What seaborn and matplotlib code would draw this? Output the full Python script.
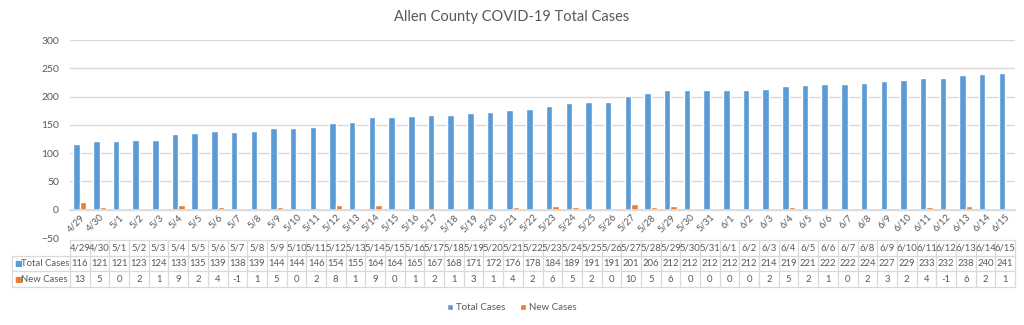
import numpy as np
import pandas as pd
import matplotlib
matplotlib.use("Agg")
import matplotlib.pyplot as plt
from matplotlib.patches import Patch
from matplotlib.ticker import FixedLocator, MultipleLocator
import seaborn as sns

dates = ["4/29", "4/30"] + [f"5/{d}" for d in range(1, 32)] + [f"6/{d}" for d in range(1, 16)]
total_cases = [116, 121, 121, 123, 124, 133, 135, 139, 138, 139, 144, 144, 146, 154, 155, 164,
               164, 165, 167, 168, 171, 172, 176, 178, 184, 189, 191, 191, 201, 206, 212, 212,
               212, 212, 212, 214, 219, 221, 222, 222, 224, 227, 229, 233, 232, 238, 240, 241]
new_cases = [13, 5, 0, 2, 1, 9, 2, 4, -1, 1, 5, 0, 2, 8, 1, 9, 0, 1, 2, 1, 3, 1, 4, 2, 6, 5,
             2, 0, 10, 5, 6, 0, 0, 0, 0, 2, 5, 2, 1, 0, 2, 3, 2, 4, -1, 6, 2, 1]
series_names = ["Total Cases", "New Cases"]
title = "Allen County COVID-19 Total Cases"

BLUE = "#5B9BD5"
ORANGE = "#ED7D31"
GRID = "#D9D9D9"
TXT = "#595959"

sns.set_theme(style="white")
plt.rcParams["font.family"] = ["Lato", "DejaVu Sans"]

df = pd.DataFrame({
    "Date": dates * 2,
    "Cases": total_cases + new_cases,
    "Series": [series_names[0]] * len(dates) + [series_names[1]] * len(dates),
})

W, H = 1024, 325
fig = plt.figure(figsize=(W / 100, H / 100), dpi=100)
L, R, T, B = 70, 1015, 40, 238
ax = fig.add_axes([L / W, 1 - B / H, (R - L) / W, (B - T) / H])

sns.barplot(data=df, x="Date", y="Cases", hue="Series", palette=[BLUE, ORANGE],
            width=0.66, ax=ax, legend=False, saturation=1, order=dates)
n = len(dates)
ax.set_xlim(-0.5, n - 0.5)
ax.set_ylim(-50, 300)
ax.yaxis.set_major_locator(MultipleLocator(50))
ax.grid(axis="y", color=GRID, linewidth=1)
ax.set_axisbelow(True)
for s in ["left", "right", "top"]:
    ax.spines[s].set_visible(False)
ax.spines["bottom"].set_position(("data", 0))
ax.spines["bottom"].set_color(GRID)
ax.set_xlabel("")
ax.set_ylabel("")
ax.tick_params(axis="y", length=0, labelsize=7.5, labelcolor=TXT, pad=8)
ax.tick_params(axis="x", which="major", length=0, labelsize=6.8, labelcolor=TXT, pad=2)
for lab in ax.get_xticklabels():
    lab.set_rotation(45)
    lab.set_ha("right")
    lab.set_rotation_mode("anchor")
ax.xaxis.set_minor_locator(FixedLocator(np.arange(-0.5, n, 1.0)))
ax.tick_params(axis="x", which="minor", length=4, color=GRID, direction="out")

fig.text(0.5, 1 - 17 / H, title, ha="center", va="center", fontsize=10.5, color=TXT)

# data table
TL, TT, TB = 12, 240, 287
tax = fig.add_axes([TL / W, 1 - TB / H, (R - TL) / W, (TB - TT) / H])
unit = (R - L) / n
x0 = -0.5 - (L - TL) / unit
tax.set_xlim(x0, n - 0.5)
tax.set_ylim(0, 3)
tax.axis("off")
lw = 0.9
tax.plot([-0.5, n - 0.5], [3, 3], color=GRID, lw=lw, clip_on=False)
for yv in [2, 1, 0]:
    tax.plot([x0, n - 0.5], [yv, yv], color=GRID, lw=lw, clip_on=False)
for xv in np.arange(-0.5, n, 1.0):
    tax.plot([xv, xv], [0, 3], color=GRID, lw=lw, clip_on=False)
tax.plot([x0, x0], [0, 2], color=GRID, lw=lw, clip_on=False)
fs = 6.8
for i, d in enumerate(dates):
    tax.text(i, 2.5, d, ha="center", va="center", fontsize=fs, color=TXT)
    tax.text(i, 1.5, str(total_cases[i]), ha="center", va="center", fontsize=fs, color=TXT)
    tax.text(i, 0.5, str(new_cases[i]), ha="center", va="center", fontsize=fs, color=TXT)
for yv, name, col in [(1.5, series_names[0], BLUE), (0.5, series_names[1], ORANGE)]:
    tax.text(x0 + 0.12, yv, "■", ha="left", va="center", fontsize=6, color=col,
             family=["DejaVu Sans"])
    tax.text(x0 + 0.45, yv, name, ha="left", va="center", fontsize=fs, color=TXT)

handles = [Patch(facecolor=BLUE, label=series_names[0]), Patch(facecolor=ORANGE, label=series_names[1])]
leg = fig.legend(handles=handles, loc="center", bbox_to_anchor=(0.5, 1 - 308 / H), ncol=2,
                 frameon=False, fontsize=7, handlelength=0.6, handleheight=0.6,
                 handletextpad=0.3, columnspacing=1.5)
for t in leg.get_texts():
    t.set_color(TXT)

fig.savefig("out.png", dpi=100, facecolor="white")
